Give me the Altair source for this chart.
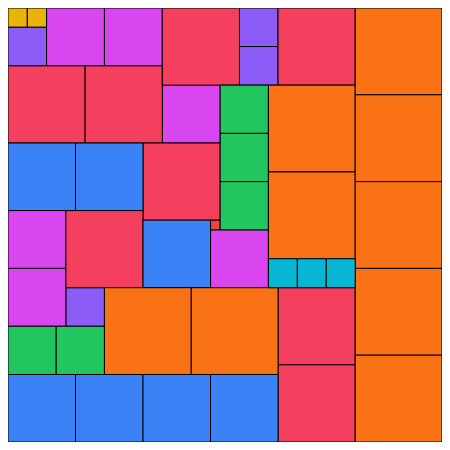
import altair as alt
import pandas as pd

# Partridge tiling: n squares of side 10*n
sides = [20, 20,
         40, 40, 40, 40,
         60, 60, 60, 60, 60, 60,
         80, 80, 80, 80, 80, 80, 80, 80,
         10,
         70, 70, 70, 70, 70, 70, 70,
         50, 50, 50, 50, 50,
         90, 90, 90, 90, 90, 90, 90, 90, 90,
         30, 30, 30]
lefts = [0, 20,
         0, 240, 240, 60,
         40, 100, 160, 0, 0, 210,
         0, 80, 160, 280, 140, 60, 280, 280,
         210,
         0, 70, 140, 0, 70, 140, 210,
         220, 220, 220, 0, 50,
         270, 270, 360, 360, 360, 360, 360, 100, 190,
         270, 300, 330]
tops = [0, 0,
        20, 0, 40, 290,
        0, 0, 80, 210, 270, 230,
        60, 60, 0, 0, 140, 210, 290, 370,
        220,
        140, 140, 220, 380, 380, 380, 380,
        80, 130, 180, 330, 330,
        80, 170, 0, 90, 180, 270, 360, 290, 290,
        260, 260, 260]

size_domain = [10, 20, 30, 40, 50, 60, 70, 80, 90]
size_colors = ["#ef4444", "#eab308", "#06b6d4", "#8b5cf6", "#22c55e",
               "#d946ef", "#3b82f6", "#f43f5e", "#f97316"]

df = pd.DataFrame({"x": lefts, "y": tops, "side": sides})

chart = alt.Chart(df).transform_calculate(
    x2="datum.x + datum.side", y2="datum.y + datum.side"
).mark_rect(stroke="black", strokeWidth=1).encode(
    x=alt.X("x:Q", scale=alt.Scale(domain=[0, 450], nice=False, zero=False), axis=None),
    x2="x2:Q",
    y=alt.Y("y:Q", scale=alt.Scale(domain=[0, 450], nice=False, zero=False, reverse=True), axis=None),
    y2="y2:Q",
    color=alt.Color("side:N", scale=alt.Scale(domain=size_domain, range=size_colors), legend=None),
).properties(
    width=434, height=434, padding=0, autosize=alt.AutoSizeParams(type="none")
).configure_view(stroke=None)

chart.save("out.html", embed_options={"renderer": "svg", "actions": False})
